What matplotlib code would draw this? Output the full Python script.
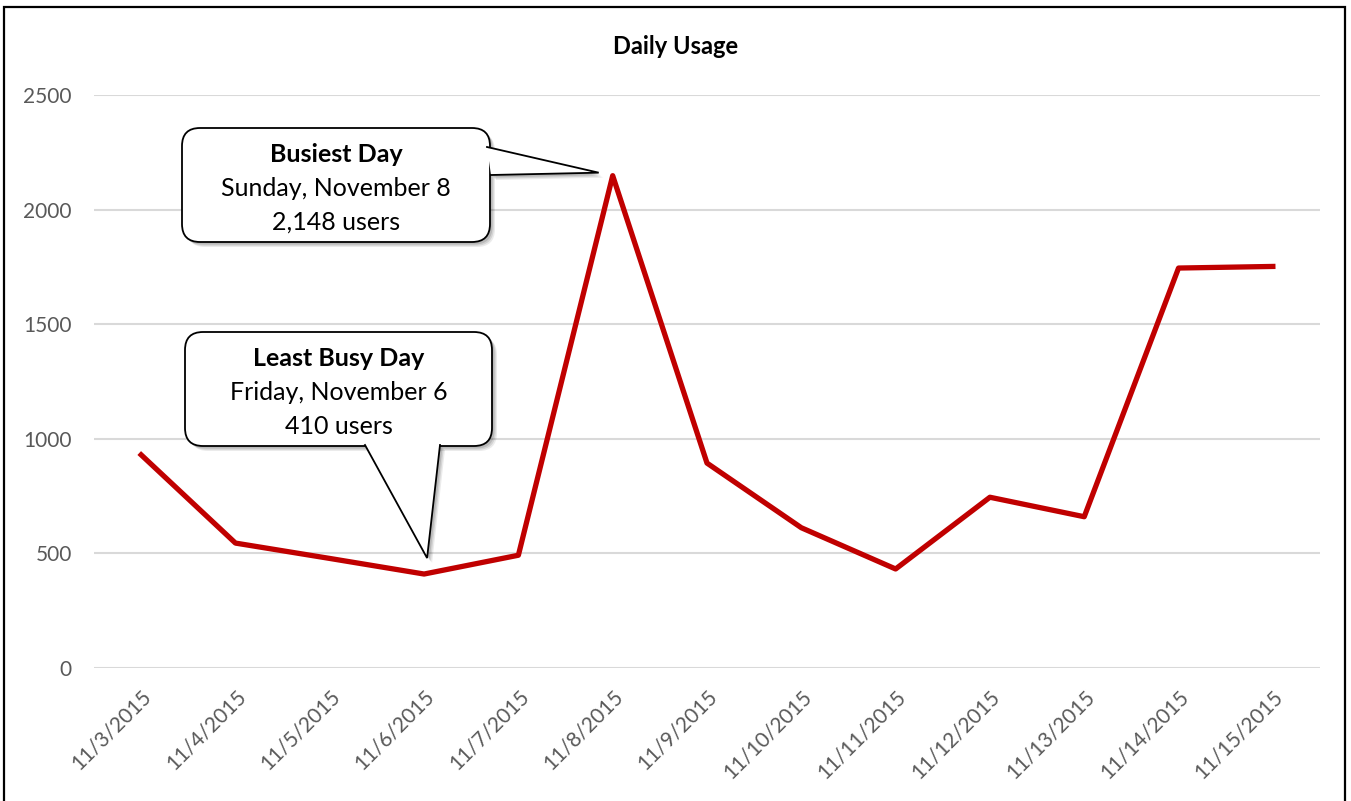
import matplotlib.pyplot as plt
from matplotlib.patches import FancyBboxPatch, Polygon, Rectangle
import numpy as np

# --- data ---
dates = ['11/3/2015', '11/4/2015', '11/5/2015', '11/6/2015', '11/7/2015',
         '11/8/2015', '11/9/2015', '11/10/2015', '11/11/2015', '11/12/2015',
         '11/13/2015', '11/14/2015', '11/15/2015']
users = [930, 545, 478, 410, 492, 2148, 894, 612, 432, 745, 660, 1745, 1752]
y_ticks = [0, 500, 1000, 1500, 2000, 2500]

busiest_lines = ['Busiest Day', 'Sunday, November 8', '2,148 users']
least_lines = ['Least Busy Day', 'Friday, November 6', '410 users']

plt.rcParams['font.family'] = ['Lato', 'DejaVu Sans']

W, H = 1351, 801
fig = plt.figure(figsize=(W / 100, H / 100), dpi=100)
ax = fig.add_axes([94 / W, 1 - 668 / H, (1320 - 94) / W, (668 - 95) / H])

x = np.arange(len(dates))
ax.plot(x, users, color='#C00000', linewidth=3.8, zorder=3)

ax.set_xlim(-0.5, len(dates) - 0.5)
ax.set_ylim(0, 2500)
ax.set_yticks(y_ticks)
ax.set_xticks(x)
ax.set_xticklabels(dates, rotation=45, ha='right', va='top', rotation_mode='anchor')
ax.tick_params(axis='both', length=0, labelsize=15, labelcolor='#595959')
ax.tick_params(axis='x', pad=13)
ax.tick_params(axis='y', pad=16)
ax.grid(axis='y', color='#D9D9D9', linewidth=1.5, zorder=0)
ax.set_axisbelow(True)
for s in ax.spines.values():
    s.set_visible(False)

fig.text(676 / W, 1 - 46 / H, 'Daily Usage', ha='center', va='center',
         fontsize=17, fontweight='bold')

# overlay in pixel units (y measured from the bottom) for frame and callouts
ov = fig.add_axes([0, 0, 1, 1], zorder=5)
ov.set_xlim(0, W)
ov.set_ylim(0, H)
ov.axis('off')
ov.patch.set_alpha(0)

ov.add_patch(Rectangle((4, -10), 1341, H - 7 + 10, fill=False, edgecolor='black',
                       linewidth=1.6, clip_on=False))


def to_px(i):
    # data point -> overlay pixel coords
    xd, yd = ax.transData.transform((x[i], users[i]))
    return xd, yd


def callout(box, base, tip, lines):
    x0, top, x1, bot = box
    y0, y1 = H - bot, H - top
    base = [(bx, H - by) for bx, by in base]
    r = 18
    style = f'round,pad=0,rounding_size={r}'
    # soft shadow
    for k, a in [(1.0, 0.08), (0.75, 0.10), (0.5, 0.12)]:
        dx, dy = 5 * k, -5 * k
        ov.add_patch(FancyBboxPatch((x0 + dx, y0 + dy), x1 - x0, y1 - y0, boxstyle=style,
                                    facecolor='black', edgecolor='none', alpha=a))
        ov.add_patch(Polygon([(base[0][0] + dx, base[0][1] + dy), (tip[0] + dx, tip[1] + dy),
                              (base[1][0] + dx, base[1][1] + dy)],
                             closed=True, facecolor='black', edgecolor='none', alpha=a))
    ov.add_patch(FancyBboxPatch((x0, y0), x1 - x0, y1 - y0, boxstyle=style,
                                facecolor='white', edgecolor='black', linewidth=1.3))
    ov.add_patch(Polygon([base[0], tip, base[1]], closed=True, facecolor='white',
                         edgecolor='none'))
    ov.plot([base[0][0], tip[0], base[1][0]], [base[0][1], tip[1], base[1][1]],
            color='black', linewidth=1.3, solid_joinstyle='miter')
    cx = (x0 + x1) / 2
    for i, t in enumerate(lines):
        ov.text(cx, H - (top + 27 + 33.5 * i), t, ha='center', va='center', fontsize=18,
                fontweight='bold' if i == 0 else 'normal')


bx, by = to_px(5)
callout((182, 128, 490, 242), [(487, 147), (491, 175)], (bx - 14, by + 3), busiest_lines)
lx, ly = to_px(3)
callout((185, 332, 492, 446), [(365, 445), (440, 445)], (lx + 3, ly + 16), least_lines)

fig.savefig('out.png', dpi=100)
